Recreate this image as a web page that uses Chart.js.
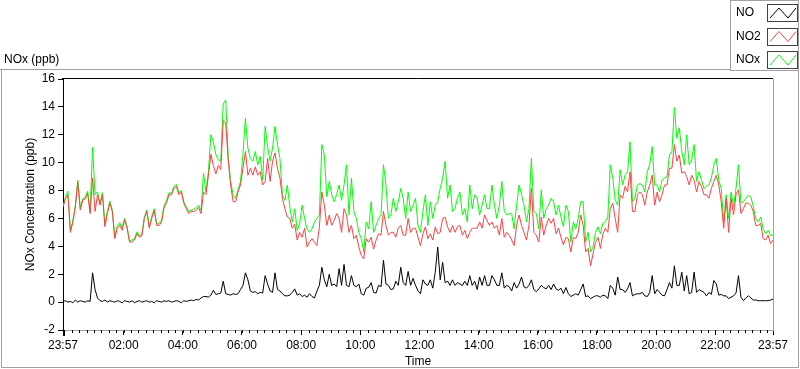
<!DOCTYPE html>
<html><head><meta charset="utf-8">
<script src="https://cdn.jsdelivr.net/npm/chart.js@4/dist/chart.umd.min.js"></script>
<style>html,body{margin:0;padding:0;background:#fff;overflow:hidden}#wrap{position:relative;width:800px;height:369px}</style>
</head><body><div id="wrap"><canvas id="c" width="800" height="369"></canvas></div>
<script>
// ---- data ----
const SERIES_NAMES = ['NO', 'NO2', 'NOx'];
const PANEL_TITLE = 'NOx (ppb)';
const X_TITLE = 'Time';
const Y_TITLE = 'NOx Concentration (ppb)';
const STEP_MIN = 5;            // sampling interval, minutes after 23:57
const X_MAX_MIN = 1440;        // 23:57 -> 23:57 next day
const X_TICK_MINUTES = [0, 123, 243, 363, 483, 603, 723, 843, 963, 1083, 1203, 1323, 1440];
const X_TICK_LABELS = ['23:57', '02:00', '04:00', '06:00', '08:00', '10:00', '12:00', '14:00', '16:00', '18:00', '20:00', '22:00', '23:57'];
const X_MINOR_FIRST = 3, X_MINOR_EVERY = 15;
const Y_TICKS = [-2, 0, 2, 4, 6, 8, 10, 12, 14, 16];

const NO = [
  0.05,0.1,0.0,0.05,-0.05,0.15,0.0,0.1,0.05,0.0,0.1,0.05,2.1,0.9,0.3,0.1,0.05,0.15,0.0,0.1,
  0.05,0.0,0.1,0.05,-0.05,0.1,0.05,0.0,0.1,-0.05,0.05,0.1,0.0,0.05,0.1,0.0,0.05,-0.05,0.1,0.05,
  0.0,0.1,0.05,0.1,0.0,0.05,0.1,0.05,-0.05,0.1,0.05,0.1,0.15,0.1,0.2,0.15,0.3,0.4,
  0.4,0.35,0.5,0.85,0.55,0.6,0.65,1.5,0.6,0.55,0.5,0.6,0.55,0.6,0.9,1.2,2.1,1.6,0.8,0.7,
  0.75,0.6,0.7,0.65,1.9,1.3,0.8,0.7,2.1,0.9,0.8,0.6,0.45,0.45,0.5,0.7,0.95,0.5,0.6,0.4,
  0.5,0.35,0.6,0.4,0.3,0.8,1.2,2.5,1.6,1.1,2.0,1.2,1.3,1.1,2.4,1.2,2.7,1.2,
  1.1,1.9,1.2,1.1,1.3,0.6,0.5,1.0,1.05,1.4,0.7,0.65,1.2,1.1,3.0,1.3,1.2,0.9,0.95,1.5,
  1.2,2.5,1.4,1.2,2.2,1.2,1.7,1.2,0.8,0.6,1.6,1.3,1.2,1.6,1.0,2.15,3.95,1.6,2.85,1.4,
  1.5,1.2,1.6,1.2,1.4,1.3,1.2,1.5,1.2,1.9,1.2,1.5,0.9,1.8,1.2,1.9,1.2,
  1.2,1.9,1.6,1.2,1.2,2.1,1.0,1.2,1.1,0.8,1.4,1.0,1.3,1.8,1.1,1.0,1.2,1.6,0.9,0.75,
  0.95,1.2,1.05,0.95,1.2,0.9,1.3,0.95,0.85,1.0,0.6,1.05,0.6,0.4,0.5,0.6,0.5,0.9,1.3,0.4,
  0.45,0.25,0.35,0.45,0.45,0.35,0.5,0.45,0.25,1.2,1.0,0.5,1.8,0.9,0.9,0.7,0.95,1.4,
  0.45,0.55,0.6,0.6,0.7,0.45,0.4,0.7,1.9,0.6,0.9,0.7,0.5,0.45,0.9,1.4,1.0,2.6,1.2,1.2,
  2.15,0.8,1.9,0.6,0.7,2.15,0.7,0.9,0.8,0.7,0.45,0.7,0.55,1.55,1.3,0.5,0.55,0.45,0.45,0.25,
  0.35,0.45,0.65,1.9,0.35,0.1,0.3,0.45,0.3,0.15,0.15,0.1,0.1,0.1,0.1,0.1,0.15,0.2
];
const NO2 = [
  6.8,7.4,7.7,5.0,5.75,6.8,8.6,6.6,7.3,7.4,7.8,6.35,8.9,6.5,7.7,6.95,7.7,5.4,6.35,7.1,
  6.5,4.55,5.3,5.5,5.15,5.9,5.3,4.3,4.3,4.45,4.9,4.65,4.75,6.0,6.5,5.3,6.0,6.6,5.5,5.5,
  5.75,6.8,7.1,7.7,7.7,8.15,8.3,7.7,7.9,7.1,6.7,6.35,6.5,6.5,6.6,6.8,6.35,7.9,
  7.7,9.1,10.6,9.8,9.2,9.8,9.5,13.0,12.85,10.2,8.4,7.2,7.2,7.9,8.4,9.6,10.8,9.1,9.6,9.1,
  9.7,9.1,9.35,8.4,8.65,10.3,8.65,10.1,10.7,9.6,8.9,7.45,6.7,6.1,6.0,5.3,5.6,4.45,5.0,4.65,
  5.3,3.95,4.3,4.55,4.3,4.05,5.4,7.9,6.95,5.5,6.25,5.5,5.85,6.35,6.0,5.0,6.7,6.25,
  5.0,5.5,4.55,4.8,3.95,3.35,3.1,4.55,4.3,4.65,3.8,4.45,4.9,4.8,6.5,5.5,4.8,5.0,5.0,4.65,
  5.3,5.5,4.8,4.8,6.0,5.0,5.3,5.3,4.65,4.05,4.9,5.4,4.55,4.9,4.45,5.4,4.9,5.0,6.0,6.1,
  5.4,5.0,5.5,5.0,5.4,5.5,4.8,5.15,4.55,5.0,5.3,5.3,5.3,5.75,5.3,6.25,5.85,
  5.5,5.75,5.3,5.5,4.8,6.0,4.65,5.0,4.8,4.45,4.05,5.5,6.25,5.5,5.0,4.45,5.5,8.15,5.0,4.8,
  4.3,6.1,4.8,5.5,6.0,5.65,6.0,4.9,5.3,4.65,4.1,4.65,4.55,3.6,4.65,4.55,5.0,6.25,5.5,3.6,
  3.85,2.6,3.45,4.3,4.65,3.85,4.9,5.3,5.0,6.7,7.1,6.0,5.0,7.7,7.45,8.3,7.9,9.35,
  6.5,6.5,7.7,7.9,7.7,6.95,7.9,8.4,9.1,6.95,7.9,7.2,7.7,8.4,8.4,9.6,9.6,11.3,10.1,10.55,
  9.25,9.35,9.0,8.4,9.1,8.75,7.9,8.65,8.3,7.7,7.7,7.45,8.15,8.65,9.1,8.4,7.2,5.3,7.45,5.0,
  7.45,6.25,7.7,8.05,6.35,6.7,7.1,7.1,6.95,6.5,5.5,5.5,5.65,4.55,4.45,4.8,4.2,4.45
];
const NOX = [
  6.9,7.5,7.95,5.1,5.85,6.9,8.75,6.8,7.4,7.5,7.95,6.5,11.1,7.7,7.9,7.1,7.85,5.6,6.5,7.25,
  6.6,4.7,5.45,5.7,5.3,6.0,5.4,4.4,4.45,4.55,5.05,4.75,4.85,6.1,6.6,5.4,6.15,6.7,5.6,5.65,
  5.9,6.9,7.3,7.85,7.8,8.3,8.45,7.85,8.0,7.2,6.85,6.5,6.6,6.65,6.8,6.95,6.6,9.25,
  7.9,9.4,12.0,11.5,10.6,10.2,10.1,14.2,14.5,10.45,8.65,7.7,7.45,8.05,8.65,10.6,13.2,11.05,10.3,10.1,
  10.8,9.85,10.45,8.75,12.6,11.15,10.1,11.05,12.6,11.3,10.3,7.7,7.3,8.4,6.85,5.75,6.7,5.15,5.6,6.95,
  6.0,5.25,5.0,5.25,5.75,6.0,6.25,11.3,10.55,7.55,8.65,7.7,7.2,7.7,8.4,7.3,8.4,9.85,
  6.25,8.9,6.5,6.0,5.0,4.55,3.6,5.75,5.25,7.2,5.0,5.5,6.0,6.25,9.85,8.4,6.0,6.25,7.45,6.5,
  7.2,8.15,7.45,6.0,7.9,6.5,6.95,7.45,5.5,5.0,6.5,7.7,5.5,7.2,6.0,6.95,7.2,8.15,8.9,10.1,
  7.45,8.4,6.5,6.7,7.45,7.9,6.25,6.7,5.75,8.4,6.7,7.7,7.45,6.25,6.95,7.7,6.7,
  6.7,8.4,6.95,6.0,6.95,8.65,6.5,6.25,6.35,6.35,5.25,6.95,8.4,7.7,6.95,5.75,6.7,10.3,6.5,6.35,
  5.25,8.05,6.0,6.7,6.95,7.45,7.2,6.25,6.95,6.1,5.4,6.95,6.5,4.3,5.75,5.25,6.0,7.2,7.2,4.3,
  5.0,3.6,3.95,5.0,5.4,4.9,5.65,5.75,6.1,9.85,8.9,7.3,6.95,9.5,8.4,9.1,9.35,11.5,
  7.2,7.45,8.4,8.5,8.4,7.9,9.35,9.85,11.15,8.4,8.4,7.9,8.75,8.9,9.0,10.55,10.8,13.95,11.75,12.5,
  10.8,9.85,12.0,9.85,10.2,11.3,8.65,9.35,8.75,8.15,8.3,8.4,8.9,9.85,10.3,8.75,8.15,5.75,7.7,6.0,
  7.9,6.85,8.15,9.85,7.1,7.2,7.45,7.65,7.55,6.85,6.0,5.75,6.1,5.25,4.9,5.15,4.8,4.8
];
const SERIES_COLORS = ['#000000', '#ff4040', '#00ff00'];

// ---- chart ----
Chart.defaults.font.family = "'Liberation Sans', Arial, sans-serif";
Chart.defaults.font.size = 12;
Chart.defaults.color = '#000';

const toPts = arr => arr.map((v, i) => ({ x: i * STEP_MIN, y: v }));
const seriesData = [NO, NO2, NOX];

const framePlugin = {
  id: 'frame',
  afterDraw(chart) {
    const ctx = chart.ctx, a = chart.chartArea, xs = chart.scales.x;
    ctx.save();
    ctx.lineWidth = 1;
    // outer panel frame
    ctx.strokeStyle = '#a0a0a0';
    ctx.beginPath();
    ctx.moveTo(0, 69.5); ctx.lineTo(730, 69.5);
    ctx.moveTo(1.5, 69.5); ctx.lineTo(1.5, 367.5);
    ctx.moveTo(1.5, 367.5); ctx.lineTo(798.5, 367.5);
    ctx.moveTo(798.5, 70); ctx.lineTo(798.5, 367.5);
    ctx.stroke();
    // plot area border: top dark, right grey
    ctx.strokeStyle = '#000';
    ctx.beginPath(); ctx.moveTo(a.left - 1, a.top - 0.5); ctx.lineTo(a.right, a.top - 0.5); ctx.stroke();
    ctx.strokeStyle = '#a0a0a0';
    ctx.beginPath(); ctx.moveTo(a.right + 0.5, a.top); ctx.lineTo(a.right + 0.5, a.bottom); ctx.stroke();
    // minor x ticks
    ctx.strokeStyle = '#000';
    ctx.beginPath();
    for (let m = X_MINOR_FIRST; m < X_MAX_MIN; m += X_MINOR_EVERY) {
      const px = Math.round(xs.getPixelForValue(m)) + 0.5;
      ctx.moveTo(px, a.bottom); ctx.lineTo(px, a.bottom + 3);
    }
    ctx.stroke();
    ctx.lineWidth = 2;
    const p0 = Math.round(xs.getPixelForValue(0)) + 1;
    ctx.beginPath(); ctx.moveTo(p0, a.bottom); ctx.lineTo(p0, a.bottom + 6); ctx.stroke();
    ctx.lineWidth = 1;
    // panel title
    ctx.fillStyle = '#000';
    ctx.font = "12px 'Liberation Sans', Arial, sans-serif";
    ctx.textBaseline = 'middle'; ctx.textAlign = 'left';
    ctx.fillText(PANEL_TITLE, 4, 60);
    // legend
    ctx.strokeStyle = '#a0a0a0';
    ctx.strokeRect(730.5, 0.5, 68, 70);
    chart.data.datasets.forEach((ds, i) => {
      const yc = 13 + i * 23.5;
      ctx.fillStyle = '#000';
      ctx.fillText(ds.label, 736, yc);
      ctx.strokeStyle = '#404040';
      ctx.lineWidth = 1;
      ctx.strokeRect(767.5, Math.round(yc - 9) + 0.5, 30, 17);
      ctx.strokeStyle = ds.borderColor;
      ctx.beginPath();
      ctx.moveTo(770, yc + 5); ctx.lineTo(779, yc - 5); ctx.lineTo(788, yc + 5); ctx.lineTo(796, yc - 5);
      ctx.stroke();
    });
    ctx.restore();
  }
};

new Chart(document.getElementById('c'), {
  type: 'line',
  data: {
    datasets: SERIES_NAMES.map((name, i) => ({
      label: name,
      data: toPts(seriesData[i]),
      borderColor: SERIES_COLORS[i],
      backgroundColor: SERIES_COLORS[i],
      borderWidth: 1,
      pointRadius: 0,
      tension: 0,
      fill: false
    }))
  },
  options: {
    responsive: false,
    animation: false,
    parsing: true,
    layout: { padding: { left: 0, top: 79, right: 27, bottom: 0 } },
    plugins: { legend: { display: false }, tooltip: { enabled: false } },
    scales: {
      x: {
        type: 'linear', min: 0, max: X_MAX_MIN,
        afterBuildTicks: s => { s.ticks = X_TICK_MINUTES.map(v => ({ value: v })); },
        afterFit: s => { s.height = 39; },
        ticks: { autoSkip: false, maxRotation: 0, padding: 3, color: '#000',
                 callback: v => { const i = X_TICK_MINUTES.indexOf(v); return i >= 0 ? X_TICK_LABELS[i] : ''; } },
        grid: { drawOnChartArea: false, drawTicks: true, tickLength: 5, tickColor: '#000' },
        border: { display: true, color: '#a0a0a0' },
        title: { display: true, text: X_TITLE, color: '#000', padding: { top: 0, bottom: 0 } }
      },
      y: {
        type: 'linear', min: -2, max: 16,
        afterBuildTicks: s => { s.ticks = Y_TICKS.map(v => ({ value: v })); },
        afterFit: s => { s.width = 63; },
        ticks: { padding: 3, color: '#000' },
        grid: { drawOnChartArea: false, drawTicks: true, tickLength: 5, tickColor: '#000' },
        border: { display: true, color: '#000' },
        title: { display: true, text: Y_TITLE, color: '#000', padding: { top: 23, bottom: 0 } }
      }
    }
  },
  plugins: [framePlugin]
});
</script>
</body></html>
